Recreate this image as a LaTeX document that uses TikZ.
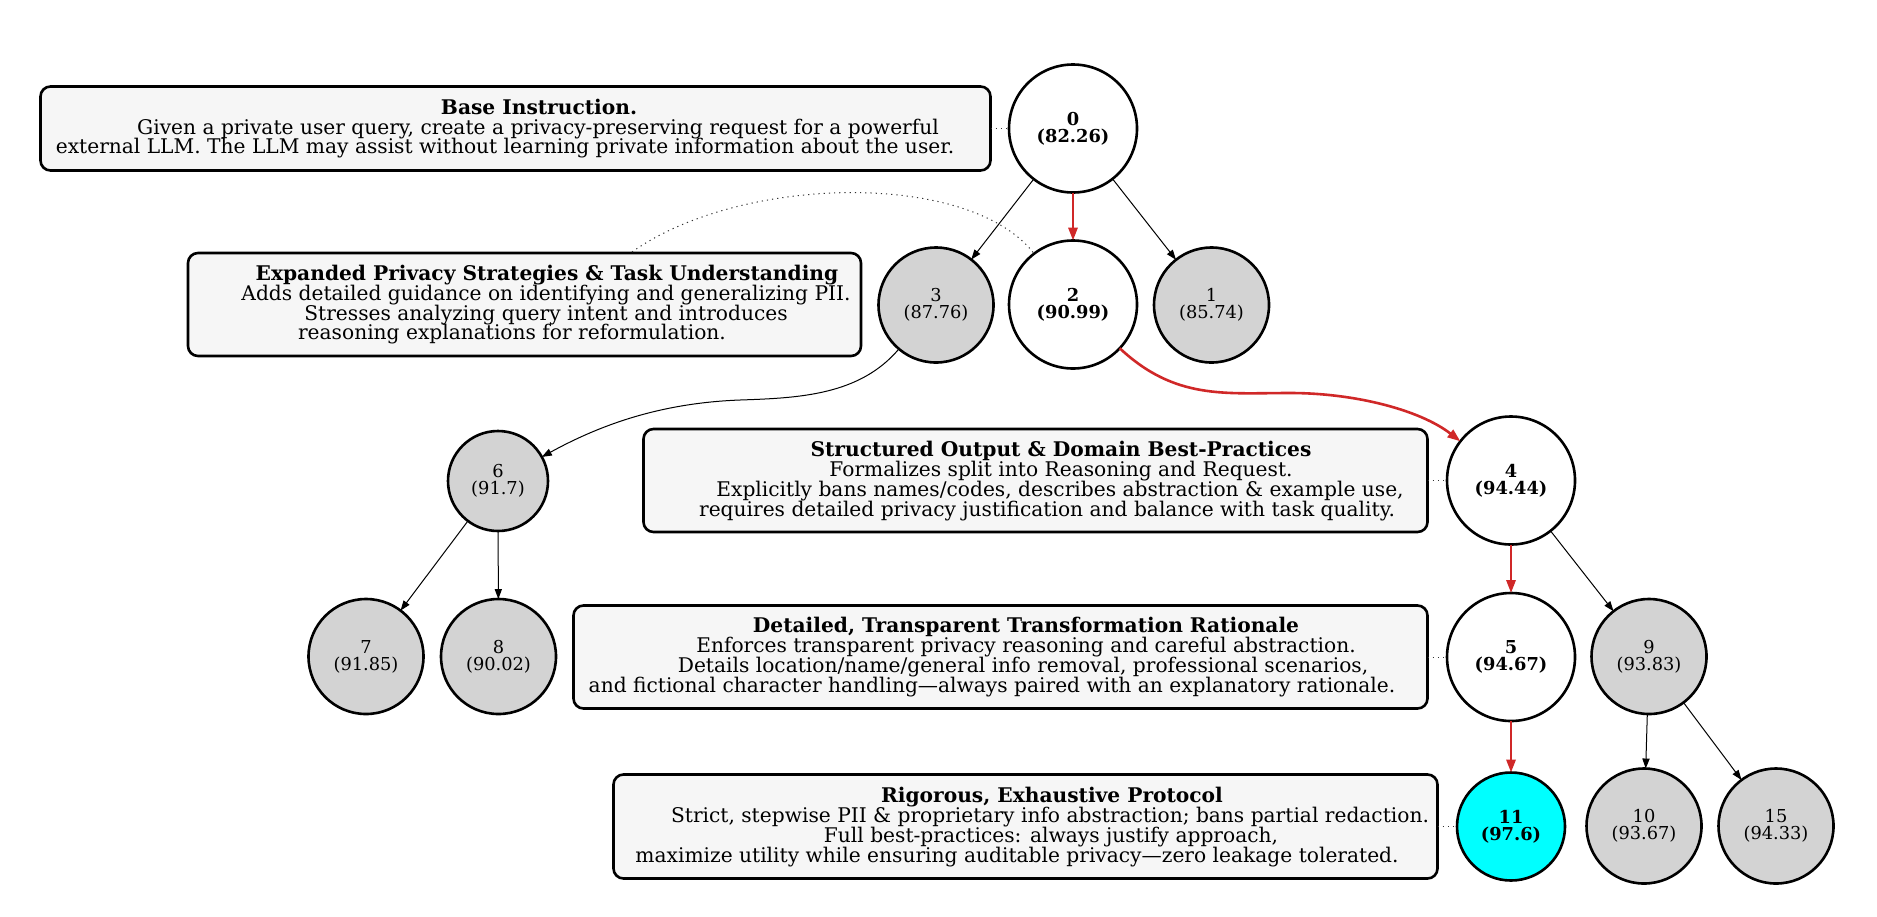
\documentclass[tikz,border=0pt]{standalone}
\usepackage{fontspec}
\setmainfont{DejaVu Serif}
\usetikzlibrary{arrows.meta}
\definecolor{redE}{RGB}{208,40,40}
\definecolor{boxfill}{RGB}{246,246,246}
\definecolor{grayfill}{RGB}{211,211,211}
\definecolor{cyanfill}{RGB}{0,255,255}
\begin{document}
\begin{tikzpicture}[x=0.5pt,y=-0.5pt,
  every node/.style={inner sep=0pt, outer sep=0pt},
  wnode/.style={circle, draw, line width=1.3pt, fill=white, minimum size=64pt, align=center, font=\fontsize{8.9}{8.6}\selectfont\bfseries},
  gnode/.style={circle, draw, line width=1.3pt, fill=grayfill, minimum size=57.5pt, align=center, font=\fontsize{8.9}{8.6}\selectfont},
  infobox/.style={rectangle, rounded corners=5pt, draw, line width=1.3pt, fill=boxfill},
  ttl/.style={anchor=base, font=\fontsize{10.1}{9.5}\selectfont\bfseries},
  txt/.style={anchor=base, font=\fontsize{10.1}{9.5}\selectfont},
  edgeb/.style={line width=0.5pt, -{Triangle[length=5pt,width=3.6pt]}},
  edger/.style={line width=1.3pt, draw=redE, -{Triangle[length=6.5pt,width=4.6pt]}},
  dots/.style={line width=0.5pt, dash pattern=on 0.6pt off 2pt, draw=black!80},
]
\path[use as bounding box] (0,0) rectangle (1877,916);

% info boxes
\node[infobox, minimum width=475pt, minimum height=42pt] (b0) at (515.5,128.5) {};
\node[infobox, minimum width=336.5pt, minimum height=51.5pt] (b1) at (524.5,304.5) {};
\node[infobox, minimum width=392pt, minimum height=51.5pt] (b2) at (1035.5,480.5) {};
\node[infobox, minimum width=427pt, minimum height=51.5pt] (b3) at (1000.5,657) {};
\node[infobox, minimum width=412pt, minimum height=52pt] (b4) at (1025.5,826.5) {};

% box texts
\node[ttl] (b0t) at (539,114) {Base Instruction.};
\node[txt] (b0a) at (538,134) {Given a private user query, create a privacy-preserving request for a powerful};
\node[txt] (b0b) at (505,153) {external LLM. The LLM may assist without learning private information about the user.};

\node[ttl] (b1t) at (547,280) {Expanded Privacy Strategies \& Task Understanding};
\node[txt] (b1a) at (546,300) {Adds detailed guidance on identifying and generalizing PII.};
\node[txt] (b1b) at (546,320) {Stresses analyzing query intent and introduces};
\node[txt] (b1c) at (512,339) {reasoning explanations for reformulation.};

\node[ttl] (b2t) at (1061,456) {Structured Output \& Domain Best-Practices};
\node[txt] (b2a) at (1061,476) {Formalizes split into Reasoning and Request.};
\node[txt] (b2b) at (1060,496) {Explicitly bans names/codes, describes abstraction \& example use,};
\node[txt] (b2c) at (1047,516) {requires detailed privacy justification and balance with task quality.};

\node[ttl] (b3t) at (1026,632) {Detailed, Transparent Transformation Rationale};
\node[txt] (b3a) at (1026,652) {Enforces transparent privacy reasoning and careful abstraction.};
\node[txt] (b3b) at (1023,672) {Details location/name/general info removal, professional scenarios,};
\node[txt] (b3c) at (992,692) {and fictional character handling—always paired with an explanatory rationale.};

\node[ttl] (b4t) at (1052,802) {Rigorous, Exhaustive Protocol};
\node[txt] (b4a) at (1050,822) {Strict, stepwise PII \& proprietary info abstraction; bans partial redaction.};
\node[txt] (b4b) at (1051,842) {Full best-practices: always justify approach,};
\node[txt] (b4c) at (1017,862) {maximize utility while ensuring auditable privacy—zero leakage tolerated.};

% tree nodes
\node[wnode] (n0) at (1073,128.5) {0\\(82.26)};
\node[wnode] (n2) at (1073,304.5) {2\\(90.99)};
\node[gnode] (n1) at (1211.5,305) {1\\(85.74)};
\node[gnode] (n3) at (936,305) {3\\(87.76)};
\node[wnode] (n4) at (1511,480.5) {4\\(94.44)};
\node[wnode] (n5) at (1511,657) {5\\(94.67)};
\node[gnode, minimum size=50pt] (n6) at (498,481) {6\\(91.7)};
\node[gnode] (n7) at (366,656.5) {7\\(91.85)};
\node[gnode] (n8) at (498.5,656.5) {8\\(90.02)};
\node[gnode] (n9) at (1649,656.5) {9\\(93.83)};
\node[wnode, fill=cyanfill, minimum size=54pt] (n11) at (1511,826.5) {11\\(97.6)};
\node[gnode] (n10) at (1644,826) {10\\(93.67)};
\node[gnode] (n15) at (1776,826) {15\\(94.33)};

% edges
\draw[edgeb] (n0) -- (n3);
\draw[edger] (n0) -- (n2);
\draw[edgeb] (n0) -- (n1);
\draw[edger] (n2) .. controls (1175,400) and (1225,393) .. (1290,393) .. controls (1355,393) and (1420,410) .. (n4);
\draw[edgeb] (n3) .. controls (860,395) and (800,398) .. (740,400) .. controls (660,403) and (600,425) .. (n6);
\draw[edgeb] (n6) -- (n7);
\draw[edgeb] (n6) -- (n8);
\draw[edger] (n4) -- (n5);
\draw[edgeb] (n4) -- (n9);
\draw[edger] (n5) -- (n11);
\draw[edgeb] (n9) -- (n10);
\draw[edgeb] (n9) -- (n15);

% dotted annotation links
\draw[dots] (b0) -- (n0);
\coordinate (eS) at (632,252);
\draw[dots] (eS) .. controls (740,175) and (970,170) .. (n2);
\draw[dots] (b2) -- (n4);
\draw[dots] (b3) -- (n5);
\draw[dots] (b4) -- (n11);
\end{tikzpicture}
\end{document}
